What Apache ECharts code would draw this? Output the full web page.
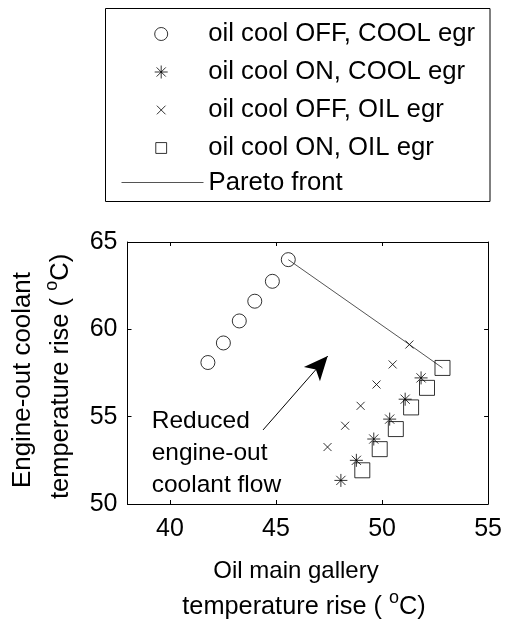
<!DOCTYPE html>
<html><head><meta charset="utf-8">
<script src="https://cdn.jsdelivr.net/npm/echarts@6/dist/echarts.min.js"></script>
<style>html,body{margin:0;padding:0;background:#fff}#c{width:505px;height:625px}</style>
</head><body><div id="c"></div>
<script>
// ---- data ----
const seriesNames = ['oil cool OFF, COOL egr', 'oil cool ON, COOL egr', 'oil cool OFF, OIL egr', 'oil cool ON, OIL egr', 'Pareto front'];
const offCoolX = [41.79, 42.52, 43.27, 44.00, 44.83, 45.58];
const offCoolY = [58.10, 59.22, 60.48, 61.61, 62.75, 63.99];
const onCoolX  = [48.06, 48.79, 49.61, 50.36, 51.09, 51.84];
const onCoolY  = [51.35, 52.50, 53.72, 54.86, 56.00, 57.22];
const offOilX  = [47.43, 48.26, 48.99, 49.74, 50.50, 51.29];
const offOilY  = [53.26, 54.48, 55.62, 56.84, 57.99, 59.13];
const onOilX   = [49.07, 49.89, 50.65, 51.37, 52.12, 52.85];
const onOilY   = [51.93, 53.14, 54.29, 55.53, 56.65, 57.79];
const paretoX  = [45.58, 51.29, 52.85];
const paretoY  = [63.99, 59.13, 57.79];
const xTicks = [40, 45, 50, 55];
const yTicks = [50, 55, 60, 65];
const arrowFrom = [44.39, 54.24];
const arrowTo = [47.44, 58.47];
const annotationLines = ['Reduced', 'engine-out', 'coolant flow'];

const zip = (xs, ys) => xs.map((x, i) => [x, ys[i]]);
const FF = 'Liberation Sans, Arial, Helvetica, sans-serif';
const STAR = 'path://M0,5L10,5M5,0L5,10M1.46,1.46L8.54,8.54M1.46,8.54L8.54,1.46';
const XMARK = 'path://M0,0L10,10M0,10L10,0';
const XMARK_LEG = 'path://M-2.5,-2.5M12.5,12.5M0,0L10,10M0,10L10,0';
const SQUARE_LEG = 'path://M-1,-1M11,11M0,0L10,0L10,10L0,10Z';
const hollow = {color: 'transparent', borderColor: '#000', borderWidth: 1};

const chart = echarts.init(document.getElementById('c'), null, {renderer: 'canvas'});
const axisCommon = {
  axisLine: {show: true, onZero: false, lineStyle: {color: '#000', width: 1}},
  splitLine: {show: false}
};
const supRich = (fs) => ({
  n: {fontSize: fs, fontFamily: FF, lineHeight: 36, fill: '#000'},
  s: {fontSize: 18, fontFamily: FF, lineHeight: 18, verticalAlign: 'top', fill: '#000'}
});
chart.setOption({
  animation: false,
  backgroundColor: '#fff',
  grid: {left: 127.5, right: 16, top: 242, bottom: 121},
  xAxis: [
    Object.assign({type: 'value', min: 38, max: 55, position: 'bottom',
      axisTick: {show: true, inside: true, length: 4, customValues: xTicks, lineStyle: {color: '#000'}},
      axisLabel: {customValues: xTicks, fontSize: 25, color: '#000', fontFamily: FF, margin: 13}}, axisCommon),
    Object.assign({type: 'value', min: 38, max: 55, position: 'top',
      axisTick: {show: true, inside: true, length: 4, customValues: xTicks, lineStyle: {color: '#000'}},
      axisLabel: {show: false}}, axisCommon)
  ],
  yAxis: [
    Object.assign({type: 'value', min: 50, max: 65, interval: 5, position: 'left',
      axisTick: {show: true, inside: true, length: 4, customValues: yTicks, lineStyle: {color: '#000'}},
      axisLabel: {customValues: yTicks, fontSize: 25, color: '#000', fontFamily: FF, margin: 10}}, axisCommon),
    Object.assign({type: 'value', min: 50, max: 65, interval: 5, position: 'right',
      axisTick: {show: true, inside: true, length: 4, customValues: yTicks, lineStyle: {color: '#000'}},
      axisLabel: {show: false}}, axisCommon)
  ],
  legend: [
    {
      orient: 'vertical', left: 154.2, top: 21, padding: 0,
      itemWidth: 84, itemHeight: 13, itemGap: 12, selectedMode: false,
      data: [
        {name: seriesNames[0], icon: 'circle'},
        {name: seriesNames[1], icon: STAR},
        {name: seriesNames[2], icon: XMARK_LEG},
        {name: seriesNames[3], icon: SQUARE_LEG}
      ],
      itemStyle: {color: 'transparent', borderColor: '#000', borderWidth: 1},
      textStyle: {fontSize: 25.7, color: '#000', fontFamily: FF, lineHeight: 25}
    },
    {
      orient: 'vertical', left: 121, top: 169.5, padding: 0,
      itemWidth: 82, itemHeight: 13, selectedMode: false,
      data: [seriesNames[4]],
      itemStyle: {color: 'transparent', borderColor: 'transparent', borderWidth: 0, opacity: 0},
      lineStyle: {color: '#555', width: 1},
      textStyle: {fontSize: 25.7, color: '#000', fontFamily: FF, lineHeight: 25}
    }
  ],
  graphic: [
    {type: 'rect', shape: {x: 105.5, y: 8.5, width: 384.5, height: 193}, style: {fill: 'none', stroke: '#000', lineWidth: 1}, silent: true},
    {type: 'text', x: 23, y: 380, rotation: Math.PI / 2,
      style: {text: 'Engine-out coolant', fontSize: 25.9, fontFamily: FF, fill: '#000', align: 'center', verticalAlign: 'middle'}},
    {type: 'text', x: 61, y: 376.5, rotation: Math.PI / 2,
      style: {text: '{n|temperature rise ( }{s|o}{n|C)}', align: 'center', verticalAlign: 'middle', fill: '#000', rich: supRich(25.5)}},
    {type: 'text', x: 296, y: 571,
      style: {text: 'Oil main gallery', fontSize: 24, fontFamily: FF, fill: '#000', align: 'center', verticalAlign: 'middle'}},
    {type: 'text', x: 304, y: 607.5,
      style: {text: '{n|temperature rise ( }{s|o}{n|C)}', align: 'center', verticalAlign: 'middle', fill: '#000', rich: supRich(25.3)}},
    {type: 'text', x: 151.7, y: 453,
      style: {text: annotationLines.join('\n'), fontSize: 24.5, fontFamily: FF, fill: '#000', align: 'left', verticalAlign: 'middle', lineHeight: 32}}
  ],
  series: [
    {name: seriesNames[0], type: 'scatter', symbol: 'circle', symbolSize: 14, data: zip(offCoolX, offCoolY), itemStyle: hollow, silent: true, z: 3},
    {name: seriesNames[1], type: 'scatter', symbol: STAR, symbolSize: 13, data: zip(onCoolX, onCoolY), itemStyle: hollow, silent: true, z: 3},
    {name: seriesNames[2], type: 'scatter', symbol: XMARK, symbolSize: 8, data: zip(offOilX, offOilY), itemStyle: hollow, silent: true, z: 3},
    {name: seriesNames[3], type: 'scatter', symbol: 'rect', symbolSize: 15, data: zip(onOilX, onOilY), itemStyle: hollow, silent: true, z: 3},
    {name: seriesNames[4], type: 'line', symbol: 'none', data: zip(paretoX, paretoY), lineStyle: {color: '#555', width: 1}, silent: true, z: 2,
      markLine: {silent: true, symbol: ['none', 'arrow'], symbolSize: [16, 24],
        lineStyle: {color: '#000', width: 1, type: 'solid'}, label: {show: false}, emphasis: {disabled: true},
        data: [[{coord: arrowFrom}, {coord: arrowTo}]]}}
  ]
});
</script></body></html>
